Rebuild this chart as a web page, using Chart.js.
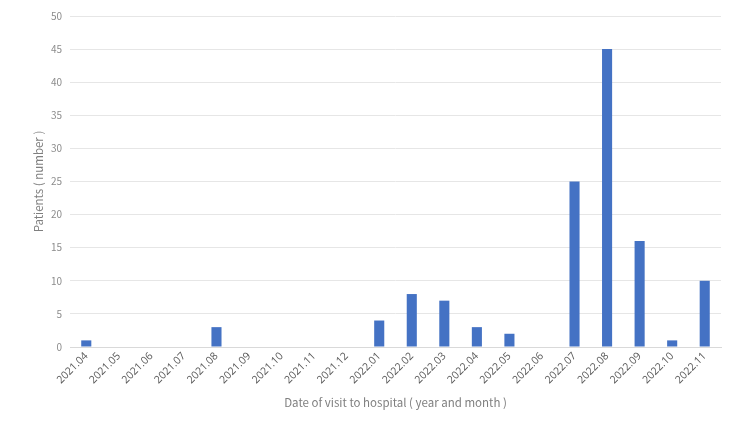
<!DOCTYPE html>
<html>
<head>
<meta charset="utf-8">
<script src="https://cdn.jsdelivr.net/npm/chart.js@4"></script>
<style>
  html, body { margin: 0; padding: 0; background: #fff; }
  #wrap { width: 750px; height: 422px; }
</style>
</head>
<body>
<div id="wrap"><canvas id="chart" width="750" height="422"></canvas></div>
<script>
// months on the x axis
const months = ['2021.04', '2021.05', '2021.06', '2021.07', '2021.08', '2021.09', '2021.10', '2021.11', '2021.12',
  '2022.01', '2022.02', '2022.03', '2022.04', '2022.05', '2022.06', '2022.07', '2022.08', '2022.09', '2022.10', '2022.11'];
// patients per month
const patients = [1, 0, 0, 0, 3, 0, 0, 0, 0, 4, 8, 7, 3, 2, 0, 25, 45, 16, 1, 10];

const fontFamily = '"Noto Sans CJK JP", "Noto Sans", sans-serif';

new Chart(document.getElementById('chart'), {
  type: 'bar',
  data: {
    labels: months,
    datasets: [{
      data: patients,
      backgroundColor: '#4472C4',
      categoryPercentage: 1,
      barPercentage: 0.31
    }]
  },
  options: {
    responsive: false,
    animation: false,
    layout: { padding: { top: 16, right: 29, left: 30, bottom: 0 } },
    plugins: { legend: { display: false }, tooltip: { enabled: false } },
    scales: {
      x: {
        grid: { display: false, drawTicks: false },
        border: { color: '#d9d9d9' },
        ticks: {
          color: '#595959', font: { family: '"Open Sans", sans-serif', size: 10.5 },
          minRotation: 45, maxRotation: 45, padding: 3, autoSkip: false
        },
        title: {
          display: true, text: 'Date of visit to hospital ( year and month )',
          color: '#7f7f7f', font: { family: fontFamily, size: 11.5 }, padding: { top: 0, bottom: 12 }
        },
        afterFit: (axis) => { axis.height = 75; }
      },
      y: {
        min: 0, max: 50,
        grid: { color: '#e6e6e6', drawTicks: false },
        border: { display: false },
        ticks: {
          stepSize: 5, color: '#8c8c8c', padding: 8,
          font: { family: fontFamily, size: 10 }
        },
        title: {
          display: true, text: 'Patients ( number )',
          color: '#7f7f7f', font: { family: fontFamily, size: 11.5 }, padding: { top: 2, bottom: 0 }
        },
        afterFit: (axis) => { axis.width = 40; }
      }
    }
  }
});
</script>
</body>
</html>
